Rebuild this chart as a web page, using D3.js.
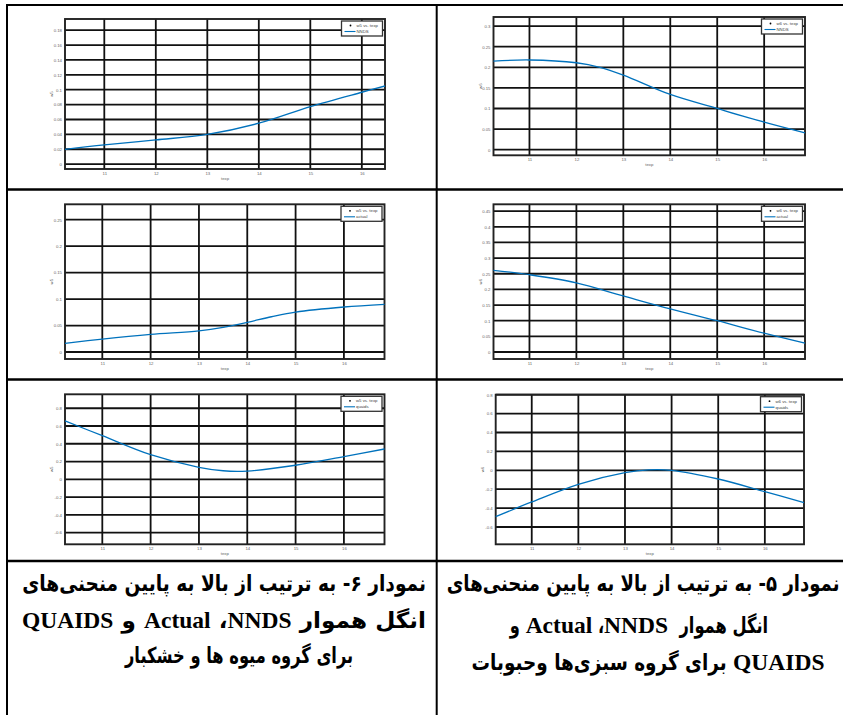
<!DOCTYPE html>
<html><head><meta charset="utf-8">
<script src="https://cdn.jsdelivr.net/npm/d3@7"></script>
<style>
html,body{margin:0;padding:0;background:#fff;}
svg{display:block;}
</style></head>
<body>
<svg id="c" width="843" height="715"></svg>
<script>
// ---------- data ----------
const xTicks = [11, 12, 13, 14, 15, 16];

const nndsFruitX   = [10.237, 11, 12, 13, 14, 15, 16, 16.45];
const nndsFruitY   = [0.020, 0.026, 0.0326, 0.040, 0.055, 0.0773, 0.0966, 0.105];
const nndsVegX     = [10.234, 11, 12, 12.5, 13, 14, 15, 16, 16.87];
const nndsVegY     = [0.215, 0.2177, 0.211, 0.200, 0.181, 0.134, 0.100, 0.067, 0.041];
const actualFruitX = [10.228, 11, 12, 13, 13.5, 14, 14.5, 15, 16, 16.84];
const actualFruitY = [0.0164, 0.0245, 0.0334, 0.040, 0.0466, 0.056, 0.0666, 0.0755, 0.085, 0.090];
const actualVegX   = [10.234, 11, 12, 13, 14, 15, 16, 16.87];
const actualVegY   = [0.261, 0.247, 0.221, 0.179, 0.1376, 0.100, 0.060, 0.028];
const quaidsFruitX = [10.228, 11, 12, 13, 13.5, 14, 15, 16, 16.84];
const quaidsFruitY = [0.657, 0.491, 0.277, 0.135, 0.096, 0.093, 0.158, 0.255, 0.341];
const quaidsVegX   = [10.227, 11, 12, 13, 13.5, 14, 15, 16, 16.84];
const quaidsVegY   = [-0.491, -0.335, -0.148, -0.025, 0.005, 0.0, -0.092, -0.226, -0.343];

const yTicksNndsFruit   = [0, 0.02, 0.04, 0.06, 0.08, 0.1, 0.12, 0.14, 0.16, 0.18];
const yTicksNndsVeg     = [0, 0.05, 0.1, 0.15, 0.2, 0.25, 0.3];
const yTicksActualFruit = [0, 0.05, 0.1, 0.15, 0.2, 0.25];
const yTicksActualVeg   = [0, 0.05, 0.1, 0.15, 0.2, 0.25, 0.3, 0.35, 0.4, 0.45];
const yTicksQuaids      = [-0.6, -0.4, -0.2, 0, 0.2, 0.4, 0.6, 0.8];

const xDomains = [[10.237, 16.45], [10.234, 16.87], [10.228, 16.84], [10.234, 16.87], [10.228, 16.84], [10.227, 16.84]];
const yDomains = [[-0.0065, 0.195], [-0.0136, 0.322], [-0.0132, 0.279], [-0.0224, 0.472], [-0.732, 0.957], [-0.783, 0.80]];

const seriesNames = ["NNDS", "NNDS", "actual", "actual", "quaids", "quaids"];
const legendTitles = ["w5 vs. texp", "w6 vs. texp", "w5 vs. texp", "w6 vs. texp", "w5 vs. texp", "w6 vs. texp"];
const yLabels = ["w5", "w6", "w5", "w6", "w5", "w6"];
const xLabel = "texp";

const captionLeft = ["نمودار ۶- به ترتیب از بالا به پایین منحنی‌های", "انگل هموار NNDS، Actual و QUAIDS", "برای گروه میوه ها و خشکبار"];
const captionRight = ["نمودار ۵- به ترتیب از بالا به پایین منحنی‌های", "انگل هموار  NNDS، Actual و", "QUAIDS برای گروه سبزی‌ها وحبوبات"];

// ---------- layout ----------
const frames = [
  {x0: 65, x1: 385, y0: 19, y1: 169},
  {x0: 493.5, x1: 805, y0: 17, y1: 155.3},
  {x0: 65, x1: 384.5, y0: 204.3, y1: 359},
  {x0: 493.5, x1: 805, y0: 204.3, y1: 359},
  {x0: 65, x1: 384.5, y0: 394.3, y1: 544.3},
  {x0: 495.7, x1: 804, y0: 394.7, y1: 544.3}
];
const chartData = [
  [nndsFruitX, nndsFruitY, yTicksNndsFruit],
  [nndsVegX, nndsVegY, yTicksNndsVeg],
  [actualFruitX, actualFruitY, yTicksActualFruit],
  [actualVegX, actualVegY, yTicksActualVeg],
  [quaidsFruitX, quaidsFruitY, yTicksQuaids],
  [quaidsVegX, quaidsVegY, yTicksQuaids]
];

const svg = d3.select("#c");
const fmt = v => String(+v.toFixed(2));
const blue = "#0072BD";
const smallFont = "Liberation Sans, Arial, sans-serif";

chartData.forEach((cd, i) => {
  const [xs, ys, yt] = cd;
  const f = frames[i];
  const x = d3.scaleLinear().domain(xDomains[i]).range([f.x0, f.x1]);
  const y = d3.scaleLinear().domain(yDomains[i]).range([f.y1, f.y0]);
  const g = svg.append("g");

  g.selectAll("line.h").data(yt.filter(v => y(v) >= f.y0 - 0.5)).enter().append("line")
    .attr("x1", f.x0).attr("x2", f.x1).attr("y1", d => y(d)).attr("y2", d => y(d))
    .attr("stroke", "#111").attr("stroke-width", 1.8);
  g.selectAll("line.v").data(xTicks).enter().append("line")
    .attr("y1", f.y0).attr("y2", f.y1).attr("x1", d => x(d)).attr("x2", d => x(d))
    .attr("stroke", "#111").attr("stroke-width", 1.8);
  g.append("rect").attr("x", f.x0).attr("y", f.y0).attr("width", f.x1 - f.x0).attr("height", f.y1 - f.y0)
    .attr("fill", "none").attr("stroke", "#222").attr("stroke-width", 1.9);

  const ax = g.append("g").attr("transform", `translate(0,${f.y1})`)
    .call(d3.axisBottom(x).tickValues(xTicks).tickSize(0).tickPadding(3).tickFormat(d3.format("d")));
  const ay = g.append("g").attr("transform", `translate(${f.x0},0)`)
    .call(d3.axisLeft(y).tickValues(yt).tickSize(0).tickPadding(3).tickFormat(fmt));
  [ax, ay].forEach(a => {
    a.select(".domain").remove();
    a.selectAll("text").attr("font-family", smallFont).attr("font-size", 4.3).attr("fill", "#666");
  });

  g.append("text").attr("x", (f.x0 + f.x1) / 2).attr("y", f.y1 + 11)
    .attr("text-anchor", "middle").attr("font-family", smallFont)
    .attr("font-size", 4.3).attr("fill", "#666").text(xLabel);
  g.append("text").attr("transform", `translate(${f.x0 - 12},${(f.y0 + f.y1) / 2}) rotate(-90)`)
    .attr("text-anchor", "middle").attr("font-family", smallFont)
    .attr("font-size", 4.3).attr("fill", "#666").text(yLabels[i]);

  const pts = xs.map((v, k) => [v, ys[k]]);
  g.append("path").datum(pts)
    .attr("d", d3.line().x(d => x(d[0])).y(d => y(d[1])).curve(d3.curveCatmullRom.alpha(0.5)))
    .attr("fill", "none").attr("stroke", blue).attr("stroke-width", 1.3);

  const lw = 41, lh = 15;
  const lx = f.x1 - lw - 2.5, ly = f.y0 + 2;
  const lg = g.append("g").attr("transform", `translate(${lx},${ly})`);
  lg.append("rect").attr("width", lw).attr("height", lh).attr("fill", "#fff")
    .attr("stroke", "#333").attr("stroke-width", 1.3);
  lg.append("circle").attr("cx", 9).attr("cy", 4.5).attr("r", 0.9).attr("fill", "#000");
  lg.append("text").attr("x", 15).attr("y", 6).attr("font-family", smallFont)
    .attr("font-size", 4.3).attr("fill", "#444").text(legendTitles[i]);
  lg.append("line").attr("x1", 3).attr("x2", 14).attr("y1", 10.5).attr("y2", 10.5)
    .attr("stroke", blue).attr("stroke-width", 1.1);
  lg.append("text").attr("x", 15).attr("y", 12).attr("font-family", smallFont)
    .attr("font-size", 4.3).attr("fill", "#444").text(seriesNames[i]);
});

// ---------- table borders ----------
const tb = svg.append("g").attr("stroke", "#000");
tb.append("line").attr("x1", 6).attr("x2", 843).attr("y1", 5).attr("y2", 5).attr("stroke-width", 2.2);
tb.append("line").attr("x1", 7).attr("x2", 7).attr("y1", 4).attr("y2", 715).attr("stroke-width", 2);
tb.append("line").attr("x1", 436.7).attr("x2", 436.7).attr("y1", 4).attr("y2", 715).attr("stroke-width", 2);
[189.5, 379.5, 561].forEach(yy => tb.append("line").attr("x1", 6).attr("x2", 843)
  .attr("y1", yy).attr("y2", yy).attr("stroke-width", 2.4));

// ---------- captions (RTL runs laid out right-to-left; Latin runs in Times-like bold) ----------
function caption(lines, centers, ys, widths) {
  lines.forEach((t, k) => {
    const segs = t.split(/([A-Za-z]+)/).filter(s => s.length);
    const lineG = svg.append("g");
    const items = segs.map(s => {
      const latin = /^[A-Za-z]+$/.test(s);
      const holder = lineG.append("g");
      const tx = holder.append("text").style("white-space", "pre")
        .attr("font-weight", "bold").attr("fill", "#000").text(s);
      if (latin) {
        tx.attr("font-family", "Liberation Serif, serif").attr("font-size", 23.5).attr("text-anchor", "end");
      } else {
        tx.attr("font-family", "DejaVu Sans, sans-serif").attr("font-size", 22)
          .attr("direction", "rtl").attr("text-anchor", "start");
      }
      return {latin, holder, w: tx.node().getComputedTextLength()};
    });
    const latinW = d3.sum(items.filter(d => d.latin), d => d.w);
    const arabW = d3.sum(items.filter(d => !d.latin), d => d.w);
    const sA = Math.max(0.74, (widths[k] - latinW) / arabW);
    let cursor = 0;
    items.forEach(d => {
      if (d.latin) {
        d.holder.attr("transform", `translate(${cursor},0)`);
        cursor -= d.w;
      } else {
        d.holder.attr("transform", `translate(${cursor},0) scale(${sA},1)`);
        cursor -= d.w * sA;
      }
    });
    const total = -cursor;
    lineG.attr("transform", `translate(${centers[k] + total / 2},${ys[k]})`);
  });
}
caption(captionLeft, [224, 224, 239], [591, 628, 663], [404, 404, 212]);
caption(captionRight, [643, 639, 648], [591, 633, 670], [393, 236, 353]);
</script>
</body></html>
